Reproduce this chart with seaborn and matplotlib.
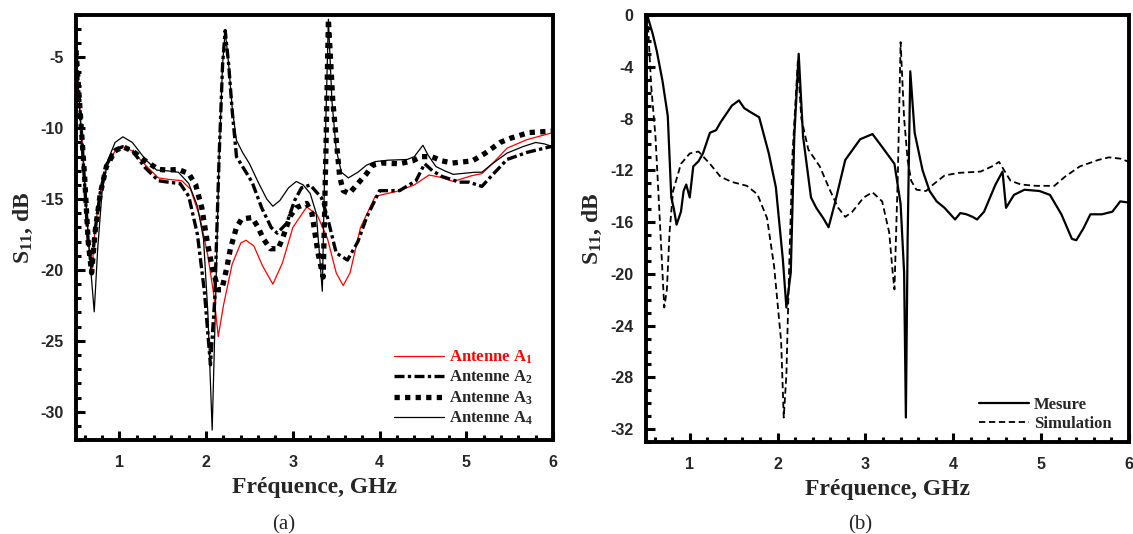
import matplotlib
matplotlib.use('Agg')
import matplotlib.pyplot as plt
from matplotlib.ticker import MultipleLocator
import seaborn as sns

# ---------------------------------------------------------
# Data (frequency in GHz, S11 in dB)
# ---------------------------------------------------------

# (a) four antennas
f_a1 = [0.5, 0.55, 0.6, 0.64, 0.68, 0.72, 0.78, 0.85, 0.95, 1.04, 1.15, 1.3, 1.45, 1.56,
        1.72, 1.82, 1.93, 2.02, 2.09, 2.14, 2.2, 2.3, 2.4, 2.46, 2.55, 2.65, 2.77, 2.88,
        3.0, 3.16, 3.28, 3.4, 3.5, 3.58, 3.66, 3.78, 3.95, 4.2, 4.4, 4.57, 4.7, 4.85,
        5.06, 5.18, 5.3, 5.47, 5.7, 5.97, 6.0]
s_a1 = [-4.5, -9.0, -13.5, -17.5, -20.4, -17.0, -14.5, -12.7, -11.6, -11.3, -11.6, -12.6,
        -13.5, -13.6, -13.7, -14.3, -16.3, -19.0, -21.8, -24.7, -22.5, -19.6, -18.1, -17.9,
        -18.3, -19.7, -21.0, -19.5, -17.0, -15.55, -16.1, -17.8, -20.2, -21.1, -20.2, -17.0,
        -14.8, -14.45, -14.0, -13.3, -13.45, -13.75, -13.35, -13.2, -12.5, -11.4, -10.8,
        -10.35, -10.35]

f_a2 = [0.5, 0.55, 0.6, 0.64, 0.68, 0.72, 0.78, 0.85, 0.95, 1.04, 1.15, 1.3, 1.45, 1.56,
        1.7, 1.8, 1.9, 1.98, 2.05, 2.1, 2.15, 2.19, 2.22, 2.26, 2.3, 2.35, 2.45, 2.53, 2.64,
        2.75, 2.82, 2.93, 3.02, 3.1, 3.2, 3.33, 3.4, 3.5, 3.63, 3.75, 3.85, 4.0, 4.23, 4.42,
        4.52, 4.61, 4.72, 4.92, 5.03, 5.18, 5.3, 5.47, 5.7, 5.97, 6.0]
s_a2 = [-4.5, -9.0, -14.0, -18.0, -19.9, -17.2, -14.5, -12.6, -11.5, -11.3, -11.6, -12.8,
        -13.7, -13.8, -13.9, -14.8, -17.5, -21.5, -26.7, -22.0, -12.0, -5.5, -3.1, -5.5,
        -8.7, -12.0, -13.0, -13.8, -15.6, -17.0, -17.4, -16.7, -15.1, -14.2, -14.0, -14.9,
        -16.3, -18.8, -19.3, -18.0, -16.3, -14.4, -14.4, -13.7, -12.5, -13.0, -13.4, -13.8,
        -13.8, -14.1, -13.3, -12.2, -11.7, -11.3, -11.3]

f_a3 = [0.5, 0.55, 0.6, 0.64, 0.68, 0.72, 0.78, 0.85, 0.95, 1.04, 1.15, 1.3, 1.45, 1.56,
        1.68, 1.8, 1.88, 1.95, 2.01, 2.07, 2.14, 2.18, 2.24, 2.28, 2.35, 2.41, 2.53, 2.6,
        2.66, 2.74, 2.83, 2.88, 2.97, 3.04, 3.16, 3.22, 3.29, 3.35, 3.38, 3.41, 3.46, 3.5,
        3.54, 3.58, 3.65, 3.75, 3.85, 3.92, 4.03, 4.23, 4.38, 4.48, 4.6, 4.72, 4.84, 5.07,
        5.22, 5.39, 5.51, 5.72, 6.0]
s_a3 = [-4.5, -9.0, -13.5, -18.0, -20.2, -17.3, -14.6, -12.7, -11.6, -11.3, -11.6, -12.3,
        -12.9, -12.95, -12.9, -13.2, -14.0, -15.6, -17.9, -19.8, -21.4, -21.4, -19.8, -18.5,
        -17.0, -16.4, -16.3, -17.0, -17.8, -18.5, -18.5, -17.8, -16.2, -15.6, -15.3, -16.0,
        -18.8, -20.5, -12.0, -2.3, -8.0, -10.8, -13.4, -14.4, -14.6, -13.9, -13.2, -12.6,
        -12.45, -12.5, -12.3, -12.0, -12.0, -12.3, -12.45, -12.3, -11.75, -11.0, -10.7,
        -10.3, -10.2]

f_a4 = [0.5, 0.55, 0.6, 0.65, 0.71, 0.75, 0.8, 0.87, 0.95, 1.04, 1.15, 1.3, 1.43, 1.55,
        1.68, 1.8, 1.9, 1.97, 2.02, 2.07, 2.11, 2.15, 2.19, 2.22, 2.26, 2.3, 2.35, 2.42, 2.5,
        2.6, 2.7, 2.77, 2.85, 2.95, 3.04, 3.12, 3.2, 3.27, 3.34, 3.37, 3.41, 3.45, 3.5, 3.56,
        3.64, 3.75, 3.85, 3.95, 4.1, 4.32, 4.4, 4.5, 4.56, 4.65, 4.75, 4.85, 5.1, 5.18, 5.3,
        5.47, 5.65, 5.8, 5.9, 6.0]
s_a4 = [-4.5, -9.5, -14.0, -18.5, -22.95, -18.5, -14.5, -12.2, -11.0, -10.6, -11.0, -12.2,
        -12.95, -13.0, -13.1, -13.9, -15.5, -17.8, -23.0, -31.3, -22.0, -12.0, -5.5, -3.1,
        -5.5, -8.5, -10.85, -11.7, -12.5, -13.8, -15.0, -15.5, -15.1, -14.2, -13.75, -14.0,
        -14.6, -16.0, -21.5, -12.0, -2.3, -8.0, -11.5, -13.1, -13.5, -13.1, -12.6, -12.35,
        -12.25, -12.2, -12.0, -11.2, -11.9, -12.7, -13.0, -13.25, -13.1, -13.1, -12.5,
        -11.75, -11.3, -11.0, -11.1, -11.3]

# (b) measurement vs simulation
f_mes = [0.52, 0.58, 0.625, 0.69, 0.75, 0.79, 0.82, 0.85, 0.9, 0.93, 0.96, 1.0, 1.04, 1.1,
         1.15, 1.23, 1.3, 1.35, 1.42, 1.48, 1.56, 1.62, 1.69, 1.79, 1.9, 1.98, 2.06, 2.1,
         2.15, 2.19, 2.24, 2.29, 2.38, 2.44, 2.52, 2.58, 2.65, 2.77, 2.94, 3.08, 3.19, 3.33,
         3.4, 3.44, 3.46, 3.48, 3.51, 3.56, 3.65, 3.73, 3.81, 3.9, 4.02, 4.08, 4.15, 4.22,
         4.27, 4.35, 4.48, 4.56, 4.6, 4.69, 4.81, 4.98, 5.1, 5.23, 5.35, 5.4, 5.48, 5.56,
         5.69, 5.81, 5.9, 6.0]
s_mes = [-0.1, -1.5, -2.8, -5.1, -7.8, -14.1, -15.0, -16.2, -15.2, -13.6, -13.1, -14.1,
         -11.7, -11.3, -10.7, -9.1, -8.9, -8.3, -7.6, -7.0, -6.6, -7.2, -7.5, -7.9, -10.7,
         -13.3, -18.9, -22.6, -19.9, -9.4, -3.0, -9.4, -14.1, -14.9, -15.7, -16.4, -14.6,
         -11.2, -9.6, -9.2, -10.2, -11.5, -14.6, -19.9, -31.1, -17.3, -4.35, -9.1, -12.0,
         -13.6, -14.4, -14.9, -15.8, -15.3, -15.4, -15.6, -15.8, -15.2, -13.1, -12.1, -14.9,
         -13.9, -13.5, -13.6, -13.9, -15.4, -17.3, -17.4, -16.5, -15.4, -15.4, -15.2, -14.4,
         -14.5]

f_sim = [0.52, 0.56, 0.61, 0.65, 0.71, 0.74, 0.77, 0.81, 0.9, 1.0, 1.1, 1.23, 1.35, 1.48,
         1.65, 1.77, 1.88, 1.96, 2.04, 2.07, 2.1, 2.13, 2.17, 2.23, 2.27, 2.35, 2.48, 2.6,
         2.69, 2.77, 2.85, 2.98, 3.08, 3.19, 3.27, 3.31, 3.33, 3.37, 3.4, 3.44, 3.48, 3.52,
         3.58, 3.69, 3.77, 3.9, 4.06, 4.31, 4.44, 4.52, 4.65, 4.77, 4.94, 5.15, 5.27, 5.44,
         5.65, 5.77, 5.9, 6.0]
s_sim = [-0.1, -5.4, -9.4, -14.6, -22.6, -21.2, -16.8, -13.6, -11.5, -10.7, -10.55, -11.5,
         -12.5, -12.9, -13.2, -13.85, -15.7, -19.4, -25.2, -31.1, -27.8, -19.9, -10.7, -3.6,
         -8.0, -10.4, -11.7, -13.6, -14.9, -15.6, -15.2, -14.1, -13.7, -14.4, -16.8, -19.9,
         -21.2, -12.0, -2.1, -8.0, -11.2, -12.8, -13.5, -13.6, -13.1, -12.4, -12.2, -12.1,
         -11.7, -11.35, -12.8, -13.1, -13.2, -13.2, -12.5, -11.7, -11.2, -11.0, -11.1, -11.35]

x_ticks = [1, 2, 3, 4, 5, 6]
y_ticks_a = [-30, -25, -20, -15, -10, -5]
y_ticks_b = [-32, -28, -24, -20, -16, -12, -8, -4, 0]

# ---------------------------------------------------------
# Style
# ---------------------------------------------------------
sns.set_style('ticks')
plt.rcParams['font.family'] = ['Liberation Sans', 'DejaVu Sans']
plt.rcParams['mathtext.default'] = 'regular'
plt.rcParams['axes.unicode_minus'] = False

serif_bold = {'family': 'Liberation Serif', 'weight': 'bold'}
legend_font = {'family': 'Liberation Serif', 'weight': 'bold', 'size': 12}

fig = plt.figure(figsize=(11.33, 5.34), dpi=100)
ax_a = fig.add_axes([0.0671, 0.176, 0.421, 0.796])
ax_b = fig.add_axes([0.570, 0.172, 0.4265, 0.800])


def style_axis(ax, yticks, ylim):
    ax.set_xlim(0.5, 6)
    ax.set_ylim(*ylim)
    ax.set_xticks(x_ticks)
    ax.set_yticks(yticks)
    ax.xaxis.set_minor_locator(MultipleLocator(0.2))
    ax.yaxis.set_minor_locator(MultipleLocator(1))
    for side in ax.spines.values():
        side.set_linewidth(2.8)
        side.set_color('black')
    ax.tick_params(which='both', direction='in', top=False, right=False,
                   width=2.2, color='black')
    ax.tick_params(which='major', length=6.5)
    ax.tick_params(which='minor', length=3.5)
    ax.tick_params(axis='x', which='major', pad=11)
    ax.tick_params(axis='y', which='major', pad=9)
    for lab in ax.get_xticklabels() + ax.get_yticklabels():
        lab.set_fontweight('bold')
        lab.set_fontsize(11.5)
    ax.set_xlabel('Fréquence, GHz', fontdict=serif_bold, fontsize=17, labelpad=5)
    ax.set_ylabel(r'S$_{11}$, dB', fontdict=serif_bold, fontsize=17, labelpad=4)


# ---------------------------------------------------------
# (a) Antennas A1..A4
# ---------------------------------------------------------
sns.lineplot(x=f_a1, y=s_a1, ax=ax_a, color='red', linewidth=0.9, sort=False,
             estimator=None, label=r'Antenne A$_{1}$')
sns.lineplot(x=f_a2, y=s_a2, ax=ax_a, color='black', linewidth=2.4, sort=False,
             estimator=None, label=r'Antenne A$_{2}$')
sns.lineplot(x=f_a3, y=s_a3, ax=ax_a, color='black', linewidth=3.8, sort=False,
             estimator=None, label=r'Antenne A$_{3}$')
sns.lineplot(x=f_a4, y=s_a4, ax=ax_a, color='black', linewidth=0.9, sort=False,
             estimator=None, label=r'Antenne A$_{4}$')
lines = ax_a.get_lines()
lines[1].set_linestyle((0, (3, 1, 1, 1)))
lines[2].set_linestyle((0, (1, 1)))
lines[2].set_dash_capstyle('butt')

style_axis(ax_a, y_ticks_a, (-32, -2))

leg_a = ax_a.legend(loc='lower right', bbox_to_anchor=(0.99, -0.005), frameon=False,
                    handlelength=3.0, handletextpad=0.3, labelspacing=0.18,
                    prop=legend_font)
leg_a.get_texts()[0].set_color('red')

# ---------------------------------------------------------
# (b) Measurement vs simulation
# ---------------------------------------------------------
sns.lineplot(x=f_mes, y=s_mes, ax=ax_b, color='black', linewidth=1.6, sort=False,
             estimator=None, label='Mesure')
sns.lineplot(x=f_sim, y=s_sim, ax=ax_b, color='black', linewidth=1.3, sort=False,
             estimator=None, label='Simulation')
ax_b.get_lines()[1].set_linestyle((0, (3.5, 2)))

style_axis(ax_b, y_ticks_b, (-33, 0))

ax_b.legend(loc='lower right', bbox_to_anchor=(0.995, -0.012), frameon=False,
            handlelength=3.0, handletextpad=0.3, labelspacing=0.2,
            prop=legend_font)

fig.text(0.250, 0.0, '(a)', ha='center', va='bottom',
         family='Liberation Serif', fontsize=15)
fig.text(0.759, 0.0, '(b)', ha='center', va='bottom',
         family='Liberation Serif', fontsize=15)

fig.savefig('out.png', dpi=100)
